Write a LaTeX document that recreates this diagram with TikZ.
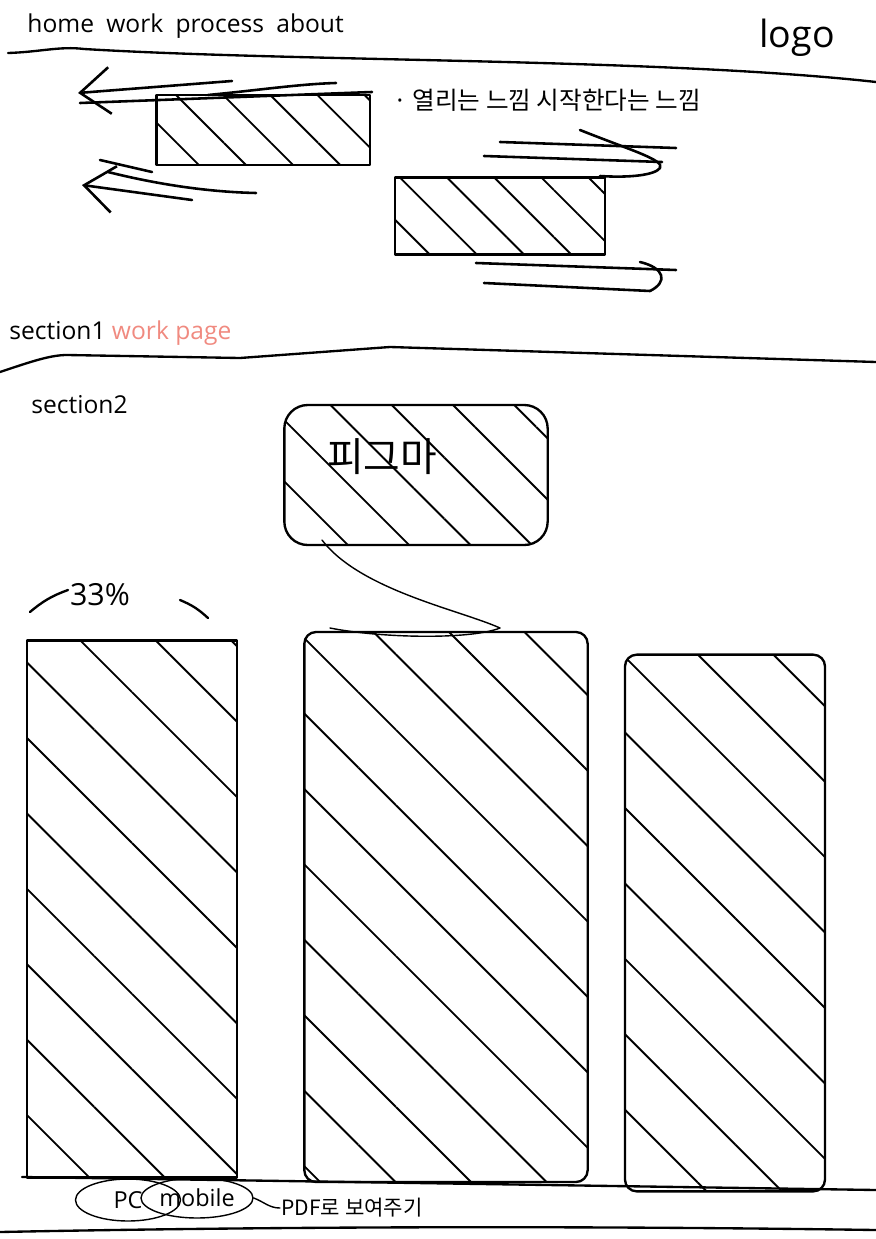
\documentclass[tikz,border=0pt]{standalone}
\usepackage{fontspec}
\setmainfont{Open Sans}
\newfontfamily\kr{Noto Sans CJK KR}
\usetikzlibrary{positioning,arrows.meta,patterns.meta,shapes.geometric}
\definecolor{salmon}{HTML}{F08A80}
\tikzset{sketch/.style={line width=2pt,line cap=round,line join=round}}
\tikzset{hatchbox/.style={rectangle,draw=black,sketch,inner sep=0pt,pattern={Lines[angle=-45,distance=#1,line width=1.6pt]}},hatchbox/.default=1cm}
\tikzset{tallbox/.style={hatchbox=1.6cm,minimum height=16.1cm}}
\tikzset{hand/.style={font=\fontsize{21}{25}\selectfont,inner sep=1pt}}
\tikzset{bubble/.style={ellipse,draw=black,line width=1.2pt,inner sep=1pt,font=\fontsize{20}{24}\selectfont}}
\tikzset{swoosh/.style={sketch,line width=2.2pt}}
\tikzset{backArrow/.style={swoosh,{Straight Barb[length=0.9cm,width=1.4cm]}-}}

\begin{document}
\begin{tikzpicture}[x=0.03cm,y=-0.03cm]
\useasboundingbox (0,0) rectangle (876,1239);
% header
\node (nav) [hand, anchor=west] at (26,26) {home\enspace work\enspace process\enspace about};
\node (logo) [hand, font=\fontsize{32}{36}\selectfont, anchor=west] at (758,38) {logo};
\draw[sketch] (8,53) .. controls (40,52) and (60,46) .. (84,49) .. controls (300,62) and (660,58) .. (876,82);
% opening boxes
\node (open) [hatchbox=1cm, minimum width=6.4cm, minimum height=2.1cm] at (263,130) {};
\node (start) [hatchbox=1cm, minimum width=6.3cm, minimum height=2.3cm] at (500,216) {};
\node (feel) [hand, font=\kr\fontsize{21}{25}\selectfont, anchor=west] at (392,100) {· 열리는 느낌 시작한다는 느낌};
\draw[backArrow] (78,93) -- (232,81);
\draw[swoosh] (80,103) -- (372,92);
\draw[swoosh] (208,95) .. controls (260,90) and (300,84) .. (336,83);
\draw[backArrow] (82,185) -- (192,200);
\draw[swoosh] (100,160) -- (152,172);
\draw[swoosh] (108,172) .. controls (160,185) and (210,192) .. (256,193);
\draw[swoosh] (500,142) -- (676,148);
\draw[swoosh] (484,156) -- (662,162);
\draw[swoosh] (580,130) .. controls (630,150) and (665,160) .. (660,168) .. controls (655,175) and (630,178) .. (600,176);
\draw[swoosh] (476,263) -- (676,270);
\draw[swoosh] (484,283) -- (650,291);
\draw[swoosh] (640,262) .. controls (665,268) and (668,282) .. (650,291);
% section 1
\node (sec1) [hand, anchor=west] at (8,333) {section1 \textcolor{salmon}{work page}};
\draw[sketch] (0,372) .. controls (30,362) and (50,355) .. (67,355) -- (240,358) -- (390,347) -- (876,362);
% section 2
\node (sec2) [hand, anchor=west] at (30,405) {section2};
\node (figma) [hatchbox=1.3cm, rounded corners=20pt, minimum width=7.9cm, minimum height=4.2cm] at (416,475) {};
\node (figmatxt) [font=\kr\fontsize{34}{38}\selectfont, inner sep=1pt] at (382,457) {피그마};
\draw[sketch, line width=1.2pt] (322,540) .. controls (360,590) and (460,610) .. (500,628) .. controls (470,640) and (380,638) .. (330,628);
\node (pct) [hand, font=\fontsize{26}{30}\selectfont] at (100,595) {33\%};
\draw[sketch] (30,612) to[bend left=10] (68,590);
\draw[sketch] (180,600) to[bend left=10] (208,618);
\node (colA) [tallbox, minimum width=6.3cm] at (132,909) {};
\node (colB) [tallbox, rounded corners=10pt, minimum width=8.5cm, minimum height=16.5cm] at (446,907) {};
\node (colC) [tallbox, rounded corners=10pt, minimum width=6cm] at (725,923) {};
\draw[sketch] (22,1177) -- (876,1190);
% devices
\node (pc) [bubble, minimum width=3.15cm, minimum height=1.26cm] at (128,1200) {PC};
\node (mob) [bubble, minimum width=3.36cm, minimum height=1.2cm] at (197,1198) {mobile};
\node (pdf) [hand, font=\kr\fontsize{18}{22}\selectfont, anchor=west] at (280,1208) {PDF로 보여주기};
\draw[sketch, line width=1.2pt] (mob.east) to[out=-20,in=180] (pdf.west);
\draw[sketch] (0,1232) .. controls (300,1226) and (600,1226) .. (876,1230);
\end{tikzpicture}
\end{document}
